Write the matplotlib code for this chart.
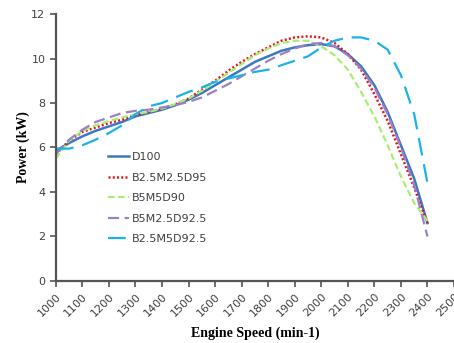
import numpy as np
from matplotlib import pyplot as plt

rpm = [1000, 1050, 1100, 1150, 1200, 1250, 1300, 1350, 1400, 1450, 1500,
       1550, 1600, 1650, 1700, 1750, 1800, 1850, 1900, 1950, 2000, 2050,
       2100, 2150, 2200, 2250, 2300, 2350, 2400]

d100 = [5.85, 6.2, 6.5, 6.75, 6.95, 7.15, 7.4, 7.55, 7.7, 7.9, 8.15,
        8.45, 8.8, 9.15, 9.5, 9.85, 10.1, 10.35, 10.5, 10.6, 10.65, 10.55,
        10.2, 9.65, 8.8, 7.6, 6.1, 4.6, 2.6]
b25m25d95 = [5.7, 6.3, 6.7, 6.9, 7.1, 7.25, 7.45, 7.6, 7.75, 7.95, 8.2,
             8.6, 9.0, 9.45, 9.85, 10.2, 10.5, 10.8, 10.95, 11.0, 10.95, 10.7,
             10.2, 9.5, 8.4, 7.2, 5.7, 4.2, 2.6]
b5m5d90 = [5.5, 6.3, 6.75, 7.0, 7.2, 7.35, 7.5, 7.6, 7.75, 7.95, 8.2,
           8.55, 8.95, 9.35, 9.75, 10.15, 10.45, 10.7, 10.8, 10.8, 10.55, 10.15,
           9.5, 8.5, 7.4, 6.1, 4.7, 3.5, 2.7]
b5m25d925 = [5.7, 6.35, 6.8, 7.15, 7.35, 7.55, 7.65, 7.7, 7.8, 7.9, 8.05,
             8.25, 8.55, 8.85, 9.2, 9.55, 9.9, 10.2, 10.45, 10.65, 10.7, 10.55,
             10.15, 9.55, 8.7, 7.5, 6.0, 4.3, 2.0]
b25m5d925 = [5.95, 5.95, 6.1, 6.35, 6.65, 7.0, 7.5, 7.85, 8.0, 8.25, 8.5,
             8.7, 8.95, 9.1, 9.25, 9.4, 9.5, 9.7, 9.9, 10.1, 10.5, 10.8,
             10.95, 10.95, 10.8, 10.4, 9.25, 7.5, 4.4]

x_ticks = np.arange(1000, 2501, 100)
y_ticks = np.arange(0, 13, 2)

fig = plt.figure(figsize=(4.54, 3.43), dpi=100)
ax = fig.add_axes([0.123, 0.181, 0.877, 0.778])

ax.plot(rpm, d100, color='#3b78c4', lw=1.8, label='D100')
ax.plot(rpm, b25m25d95, color='#e8141c', lw=1.8, ls=(0, (0.8, 0.9)), label='B2.5M2.5D95')
ax.plot(rpm, b5m5d90, color='#a8ee72', lw=1.6, ls=(0, (3, 1.5)), label='B5M5D90')
ax.plot(rpm, b5m25d925, color='#9b80c2', lw=1.6, ls=(0, (5, 2.5)), label='B5M2.5D92.5')
ax.plot(rpm, b25m5d925, color='#1ab2ea', lw=1.6, ls=(0, (8, 4)), label='B2.5M5D92.5')

ax.set_xlim(1000, 2500)
ax.set_ylim(0, 12)
ax.set_xticks(x_ticks)
ax.set_yticks(y_ticks)
ax.set_xticklabels([str(t) for t in x_ticks], rotation=45, ha='right',
                   rotation_mode='anchor')

for s in ['top', 'right']:
    ax.spines[s].set_visible(False)
for s in ['left', 'bottom']:
    ax.spines[s].set_color('#555555')
    ax.spines[s].set_linewidth(1.6)
ax.tick_params(direction='out', length=4, width=1.2, color='#555555',
               labelsize=8, labelcolor='#404040')

ax.set_xlabel('Engine Speed (min-1)', family='Liberation Serif',
              fontweight='bold', fontsize=10, labelpad=6)
ax.set_ylabel('Power (kW)', family='Liberation Serif',
              fontweight='bold', fontsize=10, labelpad=1)

leg = ax.legend(loc='upper left', bbox_to_anchor=(0.105, 0.52), frameon=False,
                fontsize=8, handlelength=1.9, labelspacing=0.95,
                handletextpad=0.3)
for t in leg.get_texts():
    t.set_color('#404040')

plt.savefig('out.png', dpi=100)
